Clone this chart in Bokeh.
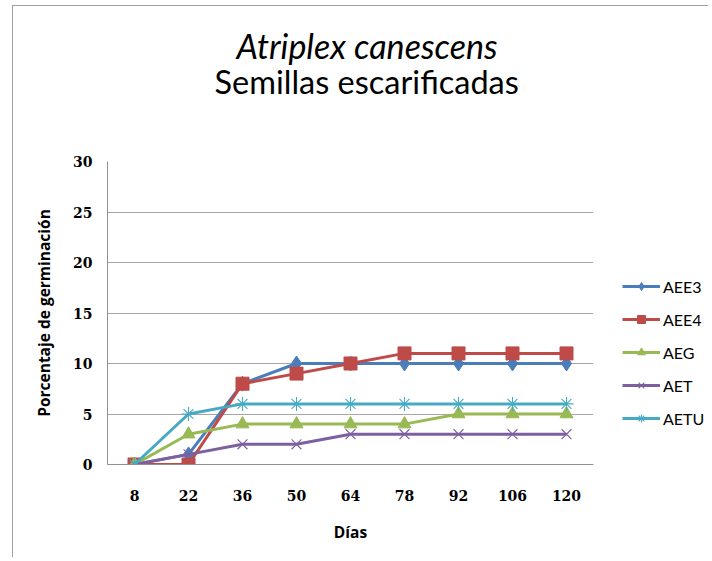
from bokeh.plotting import figure
from bokeh.layouts import row
from bokeh.models import Title, Legend, LegendItem, FactorRange, Range1d, FixedTicker
from bokeh.embed import file_html
from bokeh.resources import INLINE

dias = ["8", "22", "36", "50", "64", "78", "92", "106", "120"]
aee3 = [0, 1, 8, 10, 10, 10, 10, 10, 10]
aee4 = [0, 0, 8, 9, 10, 11, 11, 11, 11]
aeg = [0, 3, 4, 4, 4, 4, 5, 5, 5]
aet = [0, 1, 2, 2, 3, 3, 3, 3, 3]
aetu = [0, 5, 6, 6, 6, 6, 6, 6, 6]
y_ticks = [0, 5, 10, 15, 20, 25, 30]

series = [
    ("AEE3", aee3, "#4A7EBB", "diamond", 15),
    ("AEE4", aee4, "#BE4B48", "square", 13),
    ("AEG", aeg, "#98B954", "triangle", 13),
    ("AET", aet, "#7D60A0", "x", 14),
    ("AETU", aetu, "#46AAC5", "asterisk", 14),
]

p = figure(width=590, height=552, x_range=FactorRange(*dias), y_range=Range1d(0, 30),
           output_backend="svg", toolbar_location=None,
           min_border_left=94, min_border_right=10, min_border_top=155, min_border_bottom=94)
p.styles = {"margin-left": "12px", "margin-top": "5px",
            "border-left": "1px solid #a0a0a0", "border-top": "1px solid #a0a0a0"}
p.outline_line_color = None

# legend panel figure (its renderers sit outside its visible range; only the legend shows)
lg = figure(width=106, height=552, x_range=Range1d(0, 1), y_range=Range1d(0, 1),
            output_backend="svg", toolbar_location=None, min_border=0,
            x_axis_location=None, y_axis_location=None)
lg.styles = {"margin-top": "5px", "border-top": "1px solid #a0a0a0"}
lg.outline_line_color = None
lg.grid.visible = False

off = [-10.0, -11.0]
items = []
for name, vals, col, mk, sz in series:
    p.line(dias, vals, line_color=col, line_width=3)
    if mk in ("x", "asterisk"):
        p.scatter(dias, vals, marker=mk, size=sz, line_color=col, line_width=1.1)
        m = lg.scatter(off, off, marker=mk, size=sz, line_color=col, line_width=1.1)
    else:
        p.scatter(dias, vals, marker=mk, size=sz, fill_color=col, line_color=col)
        m = lg.scatter(off, off, marker=mk, size=sz, fill_color=col, line_color=col)
    l = lg.line(off, off, line_color=col, line_width=3)
    items.append(LegendItem(label=name, renderers=[l, m]))

legend = Legend(items=items, location=(20, 36), glyph_width=38, glyph_height=20, spacing=13,
                label_standoff=3, padding=0, margin=0, border_line_color=None,
                background_fill_alpha=0, label_text_font="Lato", label_text_font_size="16px",
                label_text_color="black")
lg.add_layout(legend, "center")

p.xgrid.grid_line_color = None
p.ygrid.grid_line_color = "#A6A6A6"
p.ygrid.ticker = FixedTicker(ticks=y_ticks)
p.yaxis.ticker = FixedTicker(ticks=y_ticks)

for ax in (p.xaxis, p.yaxis):
    ax.axis_line_color = "#909090"
    ax.major_tick_line_color = None
    ax.minor_tick_line_color = None
    ax.major_label_text_font = "DejaVu Serif"
    ax.major_label_text_font_style = "bold"
    ax.major_label_text_font_size = "14px"
    ax.major_label_text_color = "black"
    ax.axis_label_text_font = "Open Sans"
    ax.axis_label_text_font_style = "bold"
    ax.axis_label_text_font_size = "15.5px"
    ax.axis_label_text_color = "black"

p.xaxis.axis_label = "Días"
p.yaxis.axis_label = "Porcentaje de germinación"
p.xaxis.major_label_standoff = 19
p.xaxis.axis_label_standoff = 17
p.yaxis.major_label_standoff = 9
p.yaxis.axis_label_standoff = 15

# titles: spacer, subtitle, main title (stacked upward from the plot frame)
p.add_layout(Title(text=" ", text_font_size="10px", standoff=54), "above")
p.add_layout(Title(text="Semillas escarificadas", align="left", offset=107, standoff=-12,
                   text_font="Lato", text_font_style="normal", text_font_size="32.5px",
                   text_color="black"), "above")
p.add_layout(Title(text="Atriplex canescens", align="left", offset=129, standoff=0,
                   text_font="Lato", text_font_style="italic", text_font_size="34px",
                   text_color="black"), "above")

layout = row(p, lg)
open("out.html", "w").write(file_html(layout, INLINE))
